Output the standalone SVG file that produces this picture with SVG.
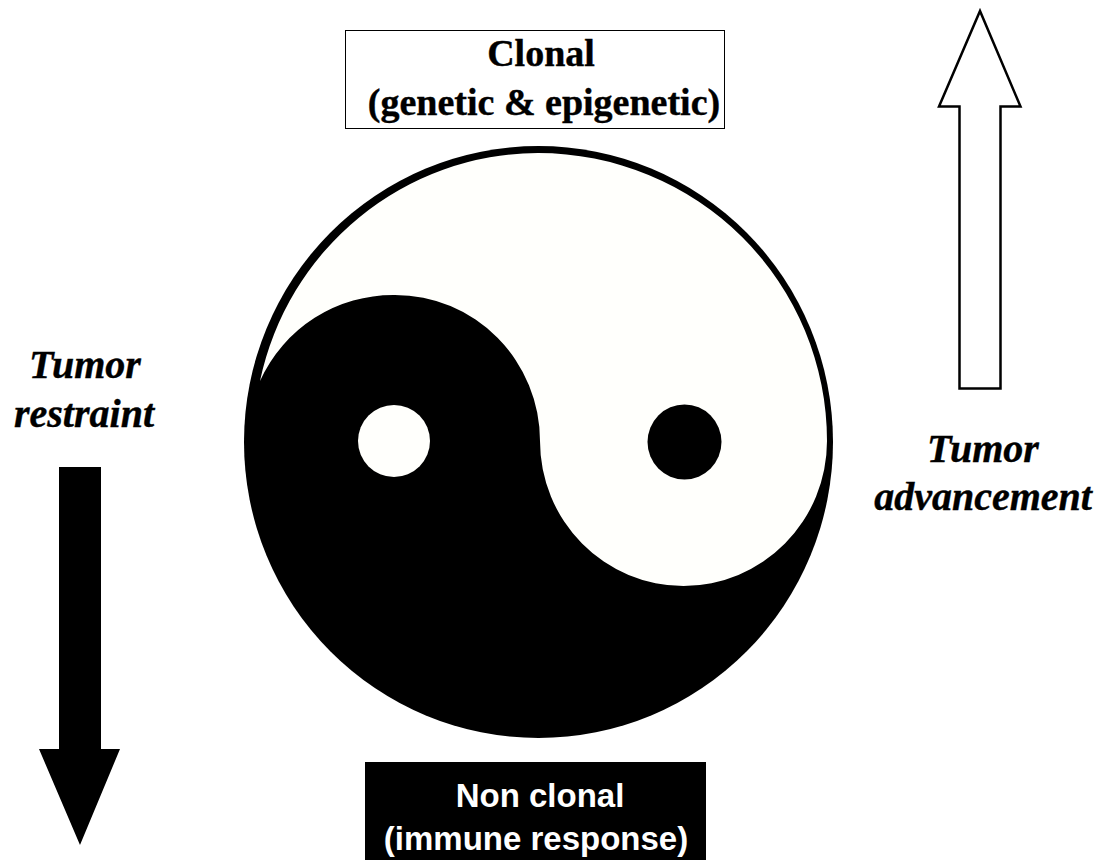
<svg xmlns="http://www.w3.org/2000/svg" width="1101" height="860" viewBox="0 0 1101 860">
<style>
.s{font-family:"Liberation Serif","Times New Roman",serif;font-weight:bold;fill:#000;stroke:#000;stroke-width:.4}
.i{font-style:italic;font-size:40px;text-anchor:middle}
.c{font-size:38px;text-anchor:middle}
.w{font-family:"Liberation Sans",Arial,sans-serif;font-weight:bold;font-size:33px;fill:#fff;text-anchor:middle}
</style>
<rect width="1101" height="860" fill="#fff"/>
<g id="clonal-box"><rect x="345.500" y="30.500" width="379" height="98" fill="#fff" stroke="#000" stroke-width="1"/>
<text class="s c" x="541" y="66">Clonal</text>
<text class="s c" x="544" y="115">(genetic &amp; epigenetic)</text></g>
<g id="yinyang">
<ellipse cx="538.500" cy="442" rx="294.500" ry="296" fill="#000"/>
<path d="M260 381A285 288 0 0 1 538 153A289 288 0 0 1 827 441A143.500 145 0 0 1 540 441A145 146 0 0 0 395 295A146 146 0 0 0 260 381Z" fill="#fffffc"/>
<ellipse cx="394" cy="441" rx="36" ry="36" fill="#fffffc"/>
<ellipse cx="684.500" cy="442" rx="37" ry="37.500" fill="#000"/>
</g>
<g id="non-clonal-box"><rect x="365" y="762" width="341" height="98" fill="#000"/>
<text class="w" x="540" y="807">Non clonal</text>
<text class="w" x="536" y="850">(immune response)</text></g>
<g id="connectors">
<path d="M959.500 388.500V106.500H939L980 11L1020.500 106.500H1000.500V388.500Z" fill="#fff" stroke="#000" stroke-width="2.500"/>
<path d="M59 467H101V749H120L80 845L39 749H59Z" fill="#000"/>
</g>
<g id="tumor-restraint"><text class="s i" x="85" y="378">Tumor</text><text class="s i" x="84" y="427">restraint</text></g>
<g id="tumor-advancement"><text class="s i" x="983" y="462">Tumor</text><text class="s i" x="983" y="510">advancement</text></g>
</svg>
